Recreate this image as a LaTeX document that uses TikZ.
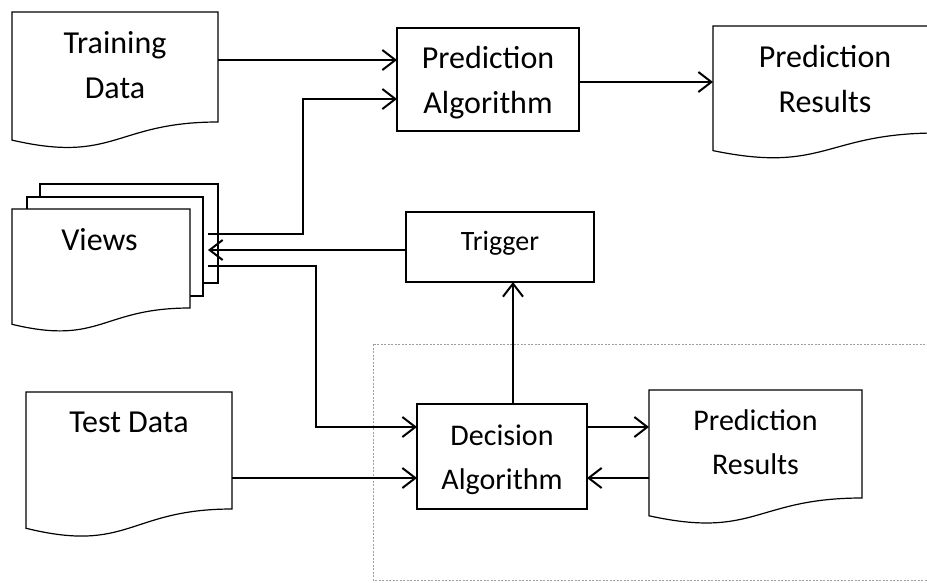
\documentclass[tikz,border=0pt]{standalone}
\usepackage{fontspec}
\setmainfont{Carlito}
\usetikzlibrary{arrows.meta,calc}
\newcommand\twolines[2]{\begin{tabular}[t]{@{}c@{}}#1\\#2\end{tabular}}
\newcommand\docshape[1]{%
  \draw[shapeline] (#1.north west) -- (#1.north east) -- (#1.south east)
    .. controls (#1.south) and ($(#1.north)!1.3815!(#1.south)$)
    .. ($(#1.north west)!1.1646!(#1.south west)$) -- cycle;}
\tikzset{
  shapeline/.style={draw=black, line width=1.2pt, fill=white, line join=miter},
  geom/.style={inner sep=0pt, outer sep=0pt},
  boxnode/.style={draw=black, line width=1.2pt, fill=white, inner sep=0pt, outer sep=0pt},
  lbl/.style={inner sep=0pt, outer sep=0pt, anchor=base, font=\fontsize{32}{45}\selectfont},
  lblsmall/.style={lbl, font=\fontsize{30}{44}\selectfont},
  arr/.style={line width=2pt, -{Straight Barb[length=13pt,width=20pt]}},
  zone/.style={draw=gray!75, line width=0.7pt, dash pattern=on 2pt off 1.5pt}
}
\begin{document}
\begin{tikzpicture}[x=1pt,y=-1pt]
\fill[white] (0,0) rectangle (927,582);
\useasboundingbox (0,0) rectangle (927,582);

% dotted region
\draw[zone] (373,344) rectangle (945,580);

% geometry nodes (text areas of the document shapes)
\node[geom, minimum width=206pt, minimum height=110pt] (td) at (115,67) {};
\node[geom, minimum width=224pt, minimum height=107pt] (pr1) at (825,79.5) {};
\node[geom, minimum width=206pt, minimum height=132pt] (views) at (115,250) {};
\node[geom, minimum width=178pt, minimum height=99pt] (viewsfront) at (101,258.5) {};
\node[geom, minimum width=206pt, minimum height=117pt] (td2) at (129,450.5) {};
\node[geom, minimum width=213pt, minimum height=108pt] (pr2) at (755.5,444) {};

% document shapes
\docshape{td}
\docshape{pr1}
\docshape{td2}
\docshape{pr2}
% multi-document (views)
\draw[shapeline] (40,184) rectangle (218,283);
\draw[shapeline] (27,197) rectangle (203,296);
\docshape{viewsfront}

% process boxes
\node[boxnode, minimum width=182pt, minimum height=103pt] (pa) at (488,79.5) {};
\node[boxnode, minimum width=188pt, minimum height=70pt] (trigger) at (500,247) {};
\node[boxnode, minimum width=170pt, minimum height=105pt] (da) at (502,456.5) {};

% labels
\node[lbl] (tdtext) at (115,53) {\twolines{Training}{Data}};
\node[lbl] (patext) at (488,68) {\twolines{Prediction}{Algorithm}};
\node[lbl] (pr1text) at (825,67) {\twolines{Prediction}{Results}};
\node[lbl] (viewstext) at (99.5,250) {Views};
\node[lbl, font=\fontsize{28}{40}\selectfont] (triggertext) at (500,250) {Trigger};
\node[lbl] (td2text) at (129,432) {Test Data};
\node[lblsmall] (datext) at (502,445) {\twolines{Decision}{Algorithm}};
\node[lblsmall] (pr2text) at (755.5,430) {\twolines{Prediction}{Results}};

% connection points
\coordinate (pain1) at ([yshift=19.5pt]pa.west);
\coordinate (pain2) at ([yshift=-19.5pt]pa.west);
\coordinate (paout) at ([yshift=-2.5pt]pa.east);
\coordinate (vout1) at ([xshift=-10pt,yshift=16pt]views.east);
\coordinate (vin) at ([xshift=-10pt]views.east);
\coordinate (vout2) at ([xshift=-10pt,yshift=-16pt]views.east);
\coordinate (dain1) at ([yshift=29.5pt]da.west);
\coordinate (dain2) at ([yshift=-21.5pt]da.west);
\coordinate (daout) at ([yshift=29.5pt]da.east);
\coordinate (daret) at ([yshift=-21.5pt]da.east);
\coordinate (datop) at ([xshift=11pt]da.north);

% connectors
\draw[arr] (td.east |- pain1) -- (pain1);
\draw[arr] (vout1) -- ++(95,0) |- (pain2);
\draw[arr] (paout) -- (paout -| pr1.west);
\draw[arr] (trigger.west |- vin) -- (vin);
\draw[arr] (vout2) -- ++(108,0) |- (dain1);
\draw[arr] (td2.east |- dain2) -- (dain2);
\draw[arr] (daout) -- (daout -| pr2.west);
\draw[arr] (pr2.west |- daret) -- (daret);
\draw[arr] (datop) -- (datop |- trigger.south);
\end{tikzpicture}
\end{document}
